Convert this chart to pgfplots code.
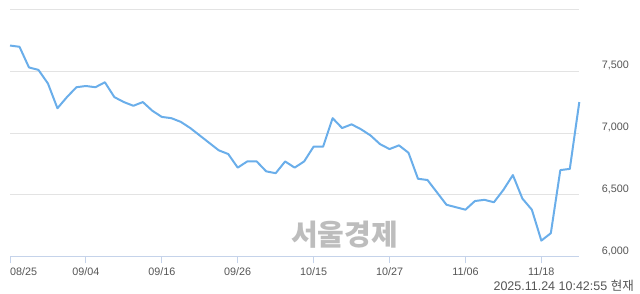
\documentclass[border=0pt]{standalone}
\usepackage{pgfplots}
\pgfplotsset{compat=1.18}
\usepackage{fontspec}
\setmainfont{Liberation Sans}
\newfontfamily\kr{Noto Sans CJK KR}
\definecolor{lineblue}{HTML}{6AAEEA}
\definecolor{gridgray}{HTML}{E3E3E3}
\definecolor{axisblue}{HTML}{C5D3EA}
\definecolor{labelgray}{HTML}{555555}
\definecolor{wmgray}{HTML}{BDBDBD}
\begin{document}
\begin{tikzpicture}[x=1bp,y=1bp]
\node[font=\kr\bfseries\fontsize{29bp}{32bp}\selectfont, text=wmgray, inner sep=0pt] at (344.5bp,59.5bp) {서울경제};
\begin{axis}[
  at={(10bp,37.3bp)}, anchor=south west,
  scale only axis, width=569.3bp, height=247.4bp,
  xmin=0, xmax=60, ymin=6000, ymax=8000,
  axis x line*=bottom, axis y line*=right,
  x axis line style={axisblue, line width=1bp},
  y axis line style={draw=none},
  ytick={6000,6500,7000,7500,8000},
  yticklabels={{6,000},{6,500},{7,000},{7,500},{}},
  ymajorgrids, grid style={gridgray, line width=0.8bp},
  ytick style={draw=none},
  xtick={8,16,24,32,40,48,56},
  xticklabels={09/04,09/16,09/26,10/15,10/27,11/06,11/18},
  extra x ticks={0}, extra x tick labels={08/25},
  extra x tick style={xticklabel style={anchor=base west}},
  xtick style={axisblue, line width=1bp},
  tick align=outside, major tick length=6.6bp,
  xticklabel style={font=\fontsize{10.8bp}{12bp}\selectfont, text=labelgray, anchor=base, inner sep=0pt, yshift=-11.7bp},
  yticklabel style={font=\fontsize{10.8bp}{12bp}\selectfont, text=labelgray, anchor=base west, inner sep=0pt, xshift=15.8bp, yshift=2.7bp},
  clip=false,
]
\addplot[lineblue, line width=2bp, mark=none, line join=round] coordinates {
(0,7707)(1,7697)(2,7530)(3,7510)(4,7400)(5,7200)(6,7290)(7,7370)(8,7380)(9,7370)
(10,7410)(11,7290)(12,7250)(13,7220)(14,7250)(15,7180)(16,7130)(17,7120)(18,7090)(19,7040)
(20,6980)(21,6920)(22,6860)(23,6830)(24,6720)(25,6770)(26,6770)(27,6690)(28,6675)(29,6770)
(30,6720)(31,6770)(32,6890)(33,6890)(34,7120)(35,7040)(36,7070)(37,7030)(38,6980)(39,6910)
(40,6870)(41,6900)(42,6840)(43,6630)(44,6620)(45,6520)(46,6420)(47,6400)(48,6380)(49,6450)
(50,6460)(51,6440)(52,6540)(53,6660)(54,6470)(55,6380)(56,6130)(57,6190)(58,6700)(59,6710)
(60,7250)
};
\end{axis}
\node[anchor=base east, font=\fontsize{12.5bp}{14bp}\selectfont, text=labelgray, inner sep=0pt] at (634bp,3.3bp) {2025.11.24 10:42:55 {\kr 현재}};
\pgfresetboundingbox
\path[use as bounding box] (0,0) rectangle (640bp,294bp);
\end{tikzpicture}
\end{document}
